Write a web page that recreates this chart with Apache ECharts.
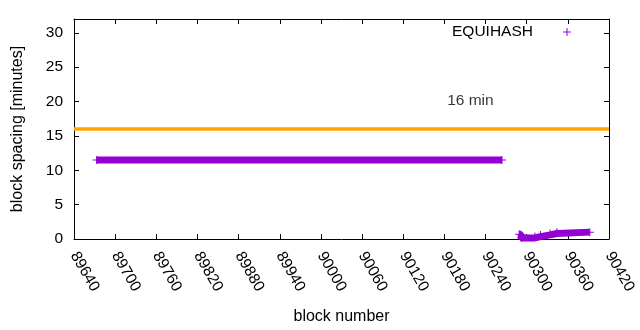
<!DOCTYPE html>
<html>
<head>
<meta charset="utf-8">
<script src="https://cdn.jsdelivr.net/npm/echarts@6/dist/echarts.min.js"></script>
<style>
  html, body { margin: 0; padding: 0; background: #fff; }
  #chart { width: 640px; height: 330px; }
</style>
</head>
<body>
<div id="chart"></div>
<script>
// block number runs (start of each level) and block spacing in minutes
const blocksA = [89673, 90264];
const spacingA = [11.5, 11.5];
const blocksB = [90289, 90292, 90312, 90320, 90334, 90344, 90392];
const spacingB = [0.7, 0.15, 0.35, 0.6, 0.8, 1.0, 1.0];
const targetSpacing = 16;
const targetLabel = '16 min';
const targetLabelAt = [90184, 20.1];
const xTicks = { min: 89640, max: 90420, step: 60 };
const yTicks = { min: 0, max: 32, step: 5 };

const PURPLE = '#9400d3';
const ORANGE = '#ffa500';
const FONT = 'Liberation Sans';
const FS = 15.5;
const PLUS = 'path://M0,3.5H3.5V0H4.5V3.5H8V4.5H4.5V8H3.5V4.5H0Z';

const chart = echarts.init(document.getElementById('chart'));

function pairs(xs, ys) {
    return xs.map((x, i) => [x, ys[i]]);
}

const axisBase = {
    axisLine: { show: true, onZero: false, lineStyle: { color: '#000', width: 1 } },
    axisTick: { show: true, inside: true, length: 5, lineStyle: { color: '#000' } },
    splitLine: { show: false },
};

const equihash = {
    name: 'EQUIHASH',
    type: 'line',
    step: 'end',
    symbol: PLUS,
    symbolSize: 8,
    showSymbol: true,
    itemStyle: { color: PURPLE, borderWidth: 0 },
    lineStyle: { color: PURPLE, width: 7, cap: 'butt' },
    silent: true,
    z: 3,
};

const option = {
    animation: false,
    backgroundColor: '#fff',
    textStyle: { fontFamily: FONT, color: '#000' },
    grid: { left: 74, right: 31, top: 19, bottom: 91 },
    legend: {
        data: [{ name: 'EQUIHASH', icon: PLUS }],
        left: 452,
        top: 24,
        padding: 0,
        align: 'right',
        itemWidth: 8,
        itemHeight: 8,
        selectedMode: false,
        formatter: '{n|{name}}',
        textStyle: {
            fontFamily: FONT, fontSize: FS, color: '#000',
            rich: { n: { width: 106, align: 'left', fontFamily: FONT, fontSize: FS, color: '#000', lineHeight: 16 } }
        },
    },
    xAxis: [
        Object.assign({}, axisBase, {
            type: 'value',
            min: xTicks.min, max: xTicks.max, interval: xTicks.step,
            name: 'block number',
            nameLocation: 'middle',
            nameGap: 70,
            nameTextStyle: { fontFamily: FONT, fontSize: 16, color: '#000' },
            axisLabel: {
                rotate: -60, margin: 14, fontFamily: FONT, fontSize: FS, color: '#000',
                formatter: v => String(v),
            },
        }),
        Object.assign({}, axisBase, {
            type: 'value', position: 'top',
            min: xTicks.min, max: xTicks.max, interval: xTicks.step,
            axisLabel: { show: false },
        }),
    ],
    yAxis: [
        Object.assign({}, axisBase, {
            type: 'value',
            min: yTicks.min, max: yTicks.max, interval: yTicks.step,
            name: 'block spacing [minutes]',
            nameLocation: 'middle',
            nameGap: 48,
            nameTextStyle: { fontFamily: FONT, fontSize: 16, color: '#000' },
            axisLabel: { margin: 11, fontFamily: FONT, fontSize: FS, color: '#000', showMaxLabel: false },
        }),
        Object.assign({}, axisBase, {
            type: 'value', position: 'right',
            min: yTicks.min, max: yTicks.max, interval: yTicks.step,
            axisLabel: { show: false },
        }),
    ],
    series: [
        Object.assign({}, equihash, { data: pairs(blocksA, spacingA) }),
        Object.assign({}, equihash, { data: pairs(blocksB, spacingB) }),
        {
            name: 'target',
            type: 'line',
            data: [],
            silent: true,
            markLine: {
                silent: true,
                symbol: 'none',
                label: { show: false },
                lineStyle: { color: ORANGE, width: 3.5, type: 'solid' },
                data: [{ yAxis: targetSpacing }],
            },
        },
        {
            name: 'label',
            type: 'scatter',
            data: [targetLabelAt],
            symbolSize: 0,
            silent: true,
            label: {
                show: true, position: 'right', distance: 0,
                formatter: targetLabel,
                fontFamily: FONT, fontSize: FS, color: '#000',
            },
        },
    ],
};

chart.setOption(option);
</script>
</body>
</html>
